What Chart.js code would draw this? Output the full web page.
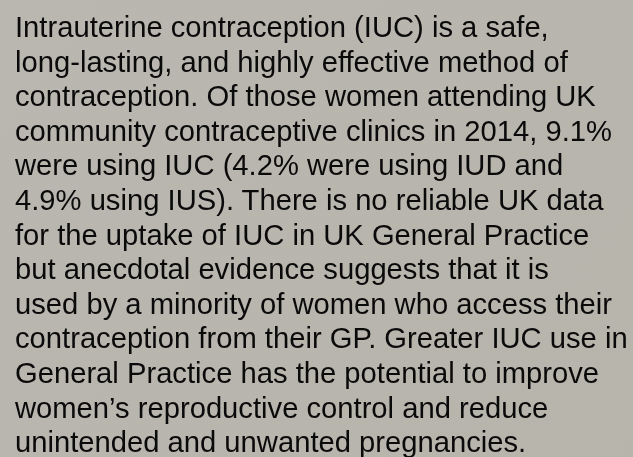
<!DOCTYPE html>
<html>
<head>
<meta charset="utf-8">
<script src="https://cdn.jsdelivr.net/npm/chart.js@4"></script>
<style>
  html, body { margin: 0; padding: 0; }
  body { width: 633px; height: 457px; overflow: hidden; position: relative; background: #b9b6ae; }
  #bg { position: absolute; left: 0; top: 0; }
  #text {
    position: absolute; left: 15px; top: 10px;
    font-family: "Liberation Sans", Arial, sans-serif;
    font-size: 29.2px; line-height: 34.6px; color: #0a0a0a;
    white-space: nowrap;
  }
</style>
</head>
<body>
<canvas id="bg" width="633" height="457"></canvas>
<div id="text"></div>
<script>
// slide text, one entry per line as laid out in the picture
const textLines = [
    "Intrauterine contraception (IUC) is a safe,",
    "long-lasting, and highly effective method of",
    "contraception. Of those women attending UK",
    "community contraceptive clinics in 2014, 9.1%",
    "were using IUC (4.2% were using IUD and",
    "4.9% using IUS). There is no reliable UK data",
    "for the uptake of IUC in UK General Practice",
    "but anecdotal evidence suggests that it is",
    "used by a minority of women who access their",
    "contraception from their GP. Greater IUC use in",
    "General Practice has the potential to improve",
    "women\u2019s reproductive control and reduce",
    "unintended and unwanted pregnancies."
];

// background only: an empty chart that paints the slide colour
const bgFill = {
    id: "bgFill",
    beforeDraw(chart) {
        let ctx = chart.ctx;
        let g = ctx.createLinearGradient(0, 0, chart.width, chart.height);
        g.addColorStop(0, "#bab7b0");
        g.addColorStop(1, "#b7b4ac");
        ctx.save();
        ctx.fillStyle = g;
        ctx.fillRect(0, 0, chart.width, chart.height);
        ctx.restore();
    }
};

new Chart(document.getElementById("bg").getContext("2d"), {
    type: "bar",
    data: { labels: [], datasets: [] },
    options: {
        responsive: false,
        animation: false,
        plugins: { legend: { display: false }, tooltip: { enabled: false } },
        scales: { x: { display: false }, y: { display: false } }
    },
    plugins: [bgFill]
});

let box = document.getElementById("text");
textLines.forEach(line => {
    let div = document.createElement("div");
    div.textContent = line;
    box.appendChild(div);
});
</script>
</body>
</html>
